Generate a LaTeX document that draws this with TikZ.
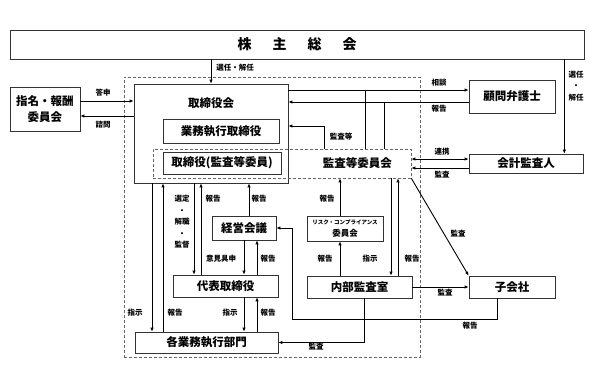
\documentclass[tikz,border=0pt]{standalone}
\usepackage{fontspec}
\setmainfont{Noto Sans CJK JP}
\usepackage{tikz}
\usetikzlibrary{arrows.meta,positioning}

\begin{document}
\begin{tikzpicture}[x=1pt,y=-1pt,
  >={Latex[length=4pt,width=3.4pt]},
  box/.style={draw=black!80,line width=0.7pt,inner sep=0pt,align=center,font=\bfseries\fontsize{11.5}{16}\selectfont},
  dbox/.style={box,draw=black!60,dash pattern=on 3pt off 2pt},
  lbl/.style={inner sep=0pt,align=center,font=\bfseries\fontsize{7.5}{11.5}\selectfont},
  arr/.style={->,line width=0.9pt},
  ln/.style={line width=0.9pt}]
\useasboundingbox (0,0) rectangle (594,370);
% frame of the board
\node[dbox,minimum width=296pt,minimum height=280pt] (area) at (272,217) {};
\node[box,minimum width=574pt,minimum height=29pt,font=\bfseries\fontsize{14}{16}\selectfont] (sh) at (297,44.5) {株\hspace{1.5em}主\hspace{1.5em}総\hspace{1.5em}会};
\node[box,minimum width=70pt,minimum height=44pt] (nom) at (45,109) {指名・報酬\\委員会};
\node[box,minimum width=154pt,minimum height=99pt,
  label={[anchor=north,yshift=-10pt,font=\bfseries\fontsize{11.5}{13}\selectfont]north:取締役会}] (bod) at (211,133.5) {};
\node[box,minimum width=116pt,minimum height=24pt] (exe) at (221,131) {業務執行取締役};
\node[dbox,minimum width=258pt,minimum height=29pt,
  label={[anchor=east,xshift=-16pt,font=\bfseries\fontsize{11.5}{13}\selectfont]east:監査等委員会}] (acm) at (282,163.5) {};
\node[box,minimum width=118pt,minimum height=22pt] (dam) at (222,163) {取締役(監査等委員)};
\node[box,minimum width=64pt,minimum height=24pt] (kmk) at (244,228) {経営会議};
\node[box,minimum width=105pt,minimum height=22pt] (dht) at (225.5,286) {代表取締役};
\node[box,minimum width=143pt,minimum height=21pt] (kgb) at (206.5,342.5) {各業務執行部門};
\node[box,minimum width=76pt,minimum height=25pt,font=\bfseries\fontsize{8.5}{12}\selectfont] (rsk) at (345,228.5) {{\fontsize{5.5}{7}\selectfont リスク・コンプライアンス}\\委員会};
\node[box,minimum width=105pt,minimum height=22pt] (nbk) at (359.5,287) {内部監査室};
\node[box,minimum width=86pt,minimum height=33pt] (kmn) at (512,96.5) {顧問弁護士};
\node[box,minimum width=114pt,minimum height=19pt] (kai) at (526,163.5) {会計監査人};
\node[box,minimum width=86pt,minimum height=22pt] (kog) at (512,287) {子会社};

\coordinate (ts) at (100,101);
\coordinate (sm) at (100,116);
\coordinate (sd) at (365,90);
\coordinate (hk) at (384,102);
\coordinate (kt) at (324,126);
\coordinate (rk) at (440,159);
\coordinate (ks) at (440,168);
\coordinate (ko) at (292,319);

% shareholders
\draw[arr] (sh.south -| bod.north) -- (bod.north);
\draw[arr] ([xshift=-19pt]kai.north east |- sh.south) -- ([xshift=-19pt]kai.north east);
% committee
\draw[arr] (nom.east |- ts) -- (bod.west |- ts);
\draw[arr] (bod.west |- sm) -- (nom.east |- sm);
% lawyer
\draw[arr] (bod.east |- sd) -- (kmn.west |- sd);
\draw[arr] (kmn.west |- hk) -- (bod.east |- hk);
\draw[ln] (acm.north -| sd) -- (sd);
\draw[ln] (acm.north -| hk) -- (hk);
\draw[arr] (acm.north -| kt) |- (bod.east |- kt);
% auditor
\draw[arr,<->] (acm.east |- rk) -- (kai.west |- rk);
\draw[arr] (kai.west |- ks) -- (acm.east |- ks);
\draw[arr] (acm.south east) -- (kog.north west);
% internal audit
\draw[arr] ([xshift=31.5pt]nbk.north |- acm.south) -- ([xshift=31.5pt]nbk.north);
\draw[arr] ([xshift=38.5pt]nbk.north) -- ([xshift=38.5pt]nbk.north |- acm.south);
\draw[arr] ([xshift=-5pt]rsk.north) -- ([xshift=-5pt]rsk.north |- acm.south);
\draw[arr] ([xshift=-5pt]rsk.south |- nbk.north) -- ([xshift=-5pt]rsk.south);
\draw[arr] (nbk.east) -- (kog.west);
\draw[arr] ([xshift=4.5pt]nbk.south) |- (kgb.east);
\draw[arr] ([xshift=-15pt]kog.south) |- (ko) |- (kmk.east);
% executive side
\draw[arr] ([xshift=5pt]kmk.north) -- ([xshift=5pt]kmk.north |- bod.south);
\draw[arr] (kmk.south) -- (kmk.south |- dht.north);
\draw[arr] ([xshift=13pt]kmk.south |- dht.north) -- ([xshift=13pt]kmk.south);
\draw[arr] ([xshift=-31.5pt]dht.north |- bod.south) -- ([xshift=-31.5pt]dht.north);
\draw[arr] ([xshift=-24.5pt]dht.north) -- ([xshift=-24.5pt]dht.north |- bod.south);
\draw[arr] ([xshift=-54.5pt]kgb.north |- bod.south) -- ([xshift=-54.5pt]kgb.north);
\draw[arr] ([xshift=-43.5pt]kgb.north) -- ([xshift=-43.5pt]kgb.north |- bod.south);
\draw[arr] ([xshift=18.5pt]dht.south) -- ([xshift=18.5pt]dht.south |- kgb.north);
\draw[arr] ([xshift=31.5pt]dht.south |- kgb.north) -- ([xshift=31.5pt]dht.south);

% labels
\node[lbl] (l1) at (235,68) {選任・解任};
\node[lbl] (l2) at (576,86) {選任\\・\\解任};
\node[lbl] (l3) at (103,93) {答申};
\node[lbl] (l4) at (103,125) {諮問};
\node[lbl] (l5) at (439,83) {相談};
\node[lbl] (l6) at (439,109) {報告};
\node[lbl] (l7) at (341,137) {監査等};
\node[lbl] (l8) at (442,152) {連携};
\node[lbl] (l9) at (442,175) {監査};
\node[lbl] (l10) at (458,234) {監査};
\node[lbl] (l11) at (182,222) {選定\\・\\解職\\・\\監督};
\node[lbl] (l12) at (213,199) {報告};
\node[lbl] (l13) at (259,199) {報告};
\node[lbl] (l14) at (327,199) {報告};
\node[lbl] (l15) at (221,259) {意見具申};
\node[lbl] (l16) at (268,259) {報告};
\node[lbl] (l17) at (325,259) {報告};
\node[lbl] (l18) at (370,259) {指示};
\node[lbl] (l19) at (412,259) {報告};
\node[lbl] (l20) at (445,293) {監査};
\node[lbl] (l21) at (135,313) {指示};
\node[lbl] (l22) at (175,313) {報告};
\node[lbl] (l23) at (230,313) {指示};
\node[lbl] (l24) at (268,313) {報告};
\node[lbl] (l25) at (470,326) {報告};
\node[lbl] (l26) at (316,347) {監査};
\end{tikzpicture}
\end{document}
